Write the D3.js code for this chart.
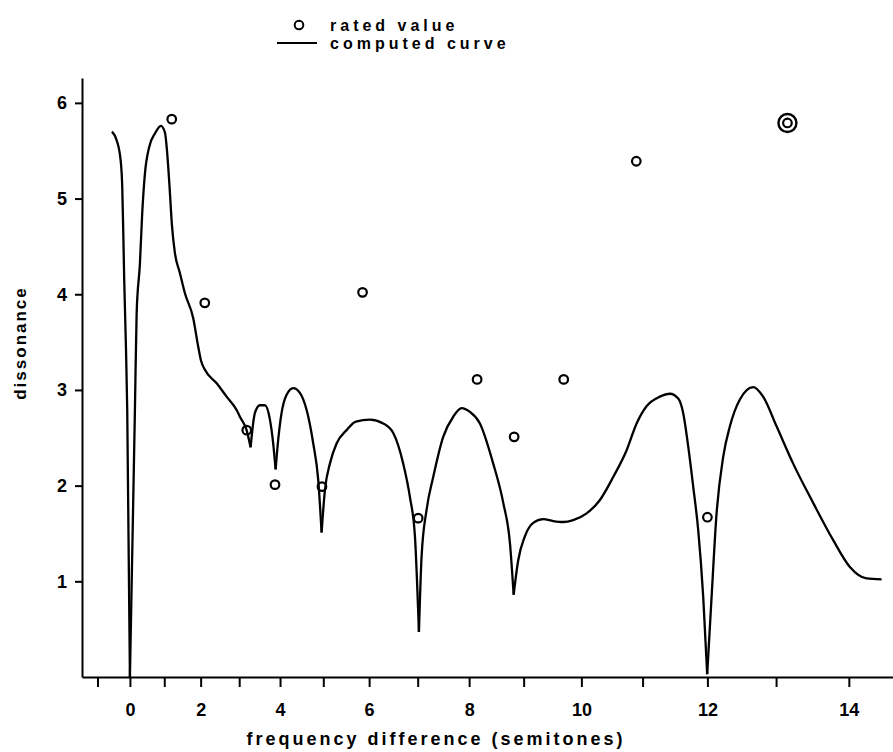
<!DOCTYPE html>
<html>
<head>
<meta charset="utf-8">
<script src="https://cdn.jsdelivr.net/npm/d3@7"></script>
<style>
  body { margin: 0; background: #fff; }
  text { font-family: "Liberation Sans", Arial, sans-serif; font-weight: bold; fill: #000; }
</style>
</head>
<body>
<svg id="chart" width="893" height="752"></svg>
<script>
// computed dissonance curve (semitones, dissonance)
const curveSemitones = [-0.548, -0.403, -0.281, -0.232, -0.202, -0.172, -0.120, -0.081, 0,
  0.149, 0.200, 0.297, 0.365, 0.444, 0.569, 0.734, 0.905, 1.019, 1.075, 1.146, 1.216, 1.299,
  1.438, 1.575, 1.801, 1.927, 2.007, 2.114, 2.422, 2.680, 2.935, 3.018, 3.186, 3.285,
  3.392, 3.515, 3.637, 3.758, 3.837, 3.895,
  3.957, 4.037, 4.156, 4.311, 4.467, 4.622, 4.773, 4.886, 4.962,
  5.036, 5.148, 5.296, 5.516, 5.717, 6.016, 6.296, 6.504, 6.708, 6.844, 6.945, 7.025,
  7.078, 7.178, 7.308, 7.503, 7.697, 7.857, 8.015, 8.202, 8.449, 8.633, 8.754, 8.821,
  8.903, 9.022, 9.169, 9.345, 9.519, 9.691, 9.862, 10.088, 10.309, 10.527, 10.745, 10.905,
  11.063, 11.273, 11.428, 11.557, 11.633, 11.710, 11.786, 11.861, 11.937, 11.997,
  12.063, 12.137, 12.235, 12.334, 12.480, 12.673, 12.816, 13.007, 13.240, 13.517, 13.790,
  14.014, 14.235, 14.432];
const curveDissonance = [5.70, 5.61, 5.40, 5.12, 4.67, 4.15, 3.45, 2.79, 0,
  2.79, 3.80, 4.32, 4.85, 5.26, 5.54, 5.68, 5.76, 5.69, 5.51, 5.14, 4.72, 4.43,
  4.22, 4.01, 3.75, 3.47, 3.31, 3.21, 3.07, 2.93, 2.79, 2.72, 2.58, 2.40,
  2.76, 2.84, 2.84, 2.69, 2.44, 2.17,
  2.48, 2.76, 2.95, 3.02, 2.97, 2.79, 2.44, 2.06, 1.51,
  1.95, 2.23, 2.44, 2.58, 2.67, 2.69, 2.65, 2.55, 2.23, 1.88, 1.47, 0.47,
  1.26, 1.75, 2.09, 2.51, 2.72, 2.81, 2.77, 2.65, 2.23, 1.82, 1.40, 0.86,
  1.22, 1.47, 1.61, 1.65, 1.63, 1.62, 1.64, 1.71, 1.85, 2.09, 2.37, 2.65,
  2.83, 2.93, 2.96, 2.91, 2.76, 2.41, 1.99, 1.54, 0.84, 0.03,
  0.84, 1.71, 2.30, 2.62, 2.90, 3.03, 2.93, 2.62, 2.23, 1.82, 1.43,
  1.15, 1.03, 1.02];
// sharp minima of the curve
const cuspSemitones = [0, 3.285, 3.895, 4.962, 7.025, 8.821, 11.997];

// rated values
const ratedSemitones = [1.21, 2.11, 3.19, 3.88, 4.97, 5.86, 7.01, 8.15, 8.83, 9.70, 10.90, 12.0, 13.16];
const ratedDissonance = [5.83, 3.91, 2.58, 2.01, 1.99, 4.02, 1.66, 3.11, 2.51, 3.11, 5.39, 1.67, 5.79];
const ringedIndex = 12;

const xTicks = d3.range(-1, 15);
const yTicks = [1, 2, 3, 4, 5, 6];

// x axis is linear in frequency ratio, labelled in semitones
const ratio = s => Math.pow(2, s / 12);

const svg = d3.select('#chart');

const x = d3.scaleLinear().domain([ratio(-1.5), ratio(14.58)]).range([82, 893]);
const y = d3.scaleLinear().domain([0, 6.26]).range([677, 78]);

const xAxis = svg.append('g')
    .attr('transform', 'translate(0,677)')
    .call(d3.axisBottom(x)
        .tickValues(xTicks.map(ratio))
        .tickSize(10)
        .tickSizeOuter(0)
        .tickPadding(16)
        .tickFormat((d, i) => (xTicks[i] >= 0 && xTicks[i] % 2 === 0) ? xTicks[i] : ''));

const yAxis = svg.append('g')
    .attr('transform', 'translate(82,0)')
    .call(d3.axisLeft(y)
        .tickValues(yTicks)
        .tickSize(7)
        .tickSizeOuter(0)
        .tickPadding(8)
        .tickFormat(d3.format('d')));

[xAxis, yAxis].forEach(g => {
    g.select('.domain').attr('stroke', '#000').attr('stroke-width', 2);
    g.selectAll('.tick line').attr('stroke', '#000').attr('stroke-width', 2);
    g.selectAll('.tick text').style('font-size', '18px').attr('fill', '#000');
});

// axis titles
svg.append('text')
    .attr('x', 436).attr('y', 745)
    .attr('text-anchor', 'middle')
    .style('font-size', '18px')
    .style('letter-spacing', '3px')
    .text('frequency difference (semitones)');

svg.append('text')
    .attr('transform', 'translate(26,343) rotate(-90)')
    .attr('text-anchor', 'middle')
    .style('font-size', '17px')
    .style('letter-spacing', '2px')
    .text('dissonance');

// curve, split at the cusps so minima stay sharp
const points = curveSemitones.map((s, i) => ({ s: s, d: curveDissonance[i] }));
const segments = [];
let current = [];
points.forEach(p => {
    current.push(p);
    if (cuspSemitones.includes(p.s)) {
        segments.push(current);
        current = [p];
    }
});
segments.push(current);

const line = d3.line()
    .x(p => x(ratio(p.s)))
    .y(p => y(p.d))
    .curve(d3.curveMonotoneX);

svg.append('g').selectAll('path')
    .data(segments)
    .enter()
    .append('path')
    .attr('d', line)
    .attr('fill', 'none')
    .attr('stroke', '#000')
    .attr('stroke-width', 2.3)
    .attr('stroke-linejoin', 'round');

// rated points
const rated = ratedSemitones.map((s, i) => ({ s: s, d: ratedDissonance[i], i: i }));
const dots = svg.append('g');
dots.selectAll('circle.rated')
    .data(rated)
    .enter()
    .append('circle')
    .attr('class', 'rated')
    .attr('cx', p => x(ratio(p.s)))
    .attr('cy', p => y(p.d))
    .attr('r', 4.3)
    .attr('fill', 'none')
    .attr('stroke', '#000')
    .attr('stroke-width', 2.2);
dots.selectAll('circle.ring')
    .data(rated.filter(p => p.i === ringedIndex))
    .enter()
    .append('circle')
    .attr('class', 'ring')
    .attr('cx', p => x(ratio(p.s)))
    .attr('cy', p => y(p.d))
    .attr('r', 9)
    .attr('fill', 'none')
    .attr('stroke', '#000')
    .attr('stroke-width', 2.4);

// legend
const legend = svg.append('g');
legend.append('circle')
    .attr('cx', 299).attr('cy', 25).attr('r', 4.3)
    .attr('fill', 'none').attr('stroke', '#000').attr('stroke-width', 2);
legend.append('text')
    .attr('x', 330).attr('y', 31)
    .style('font-size', '16px').style('letter-spacing', '4px')
    .text('rated value');
legend.append('line')
    .attr('x1', 277).attr('x2', 317).attr('y1', 43).attr('y2', 43)
    .attr('stroke', '#000').attr('stroke-width', 2);
legend.append('text')
    .attr('x', 330).attr('y', 49)
    .style('font-size', '16px').style('letter-spacing', '4px')
    .text('computed curve');
</script>
</body>
</html>
